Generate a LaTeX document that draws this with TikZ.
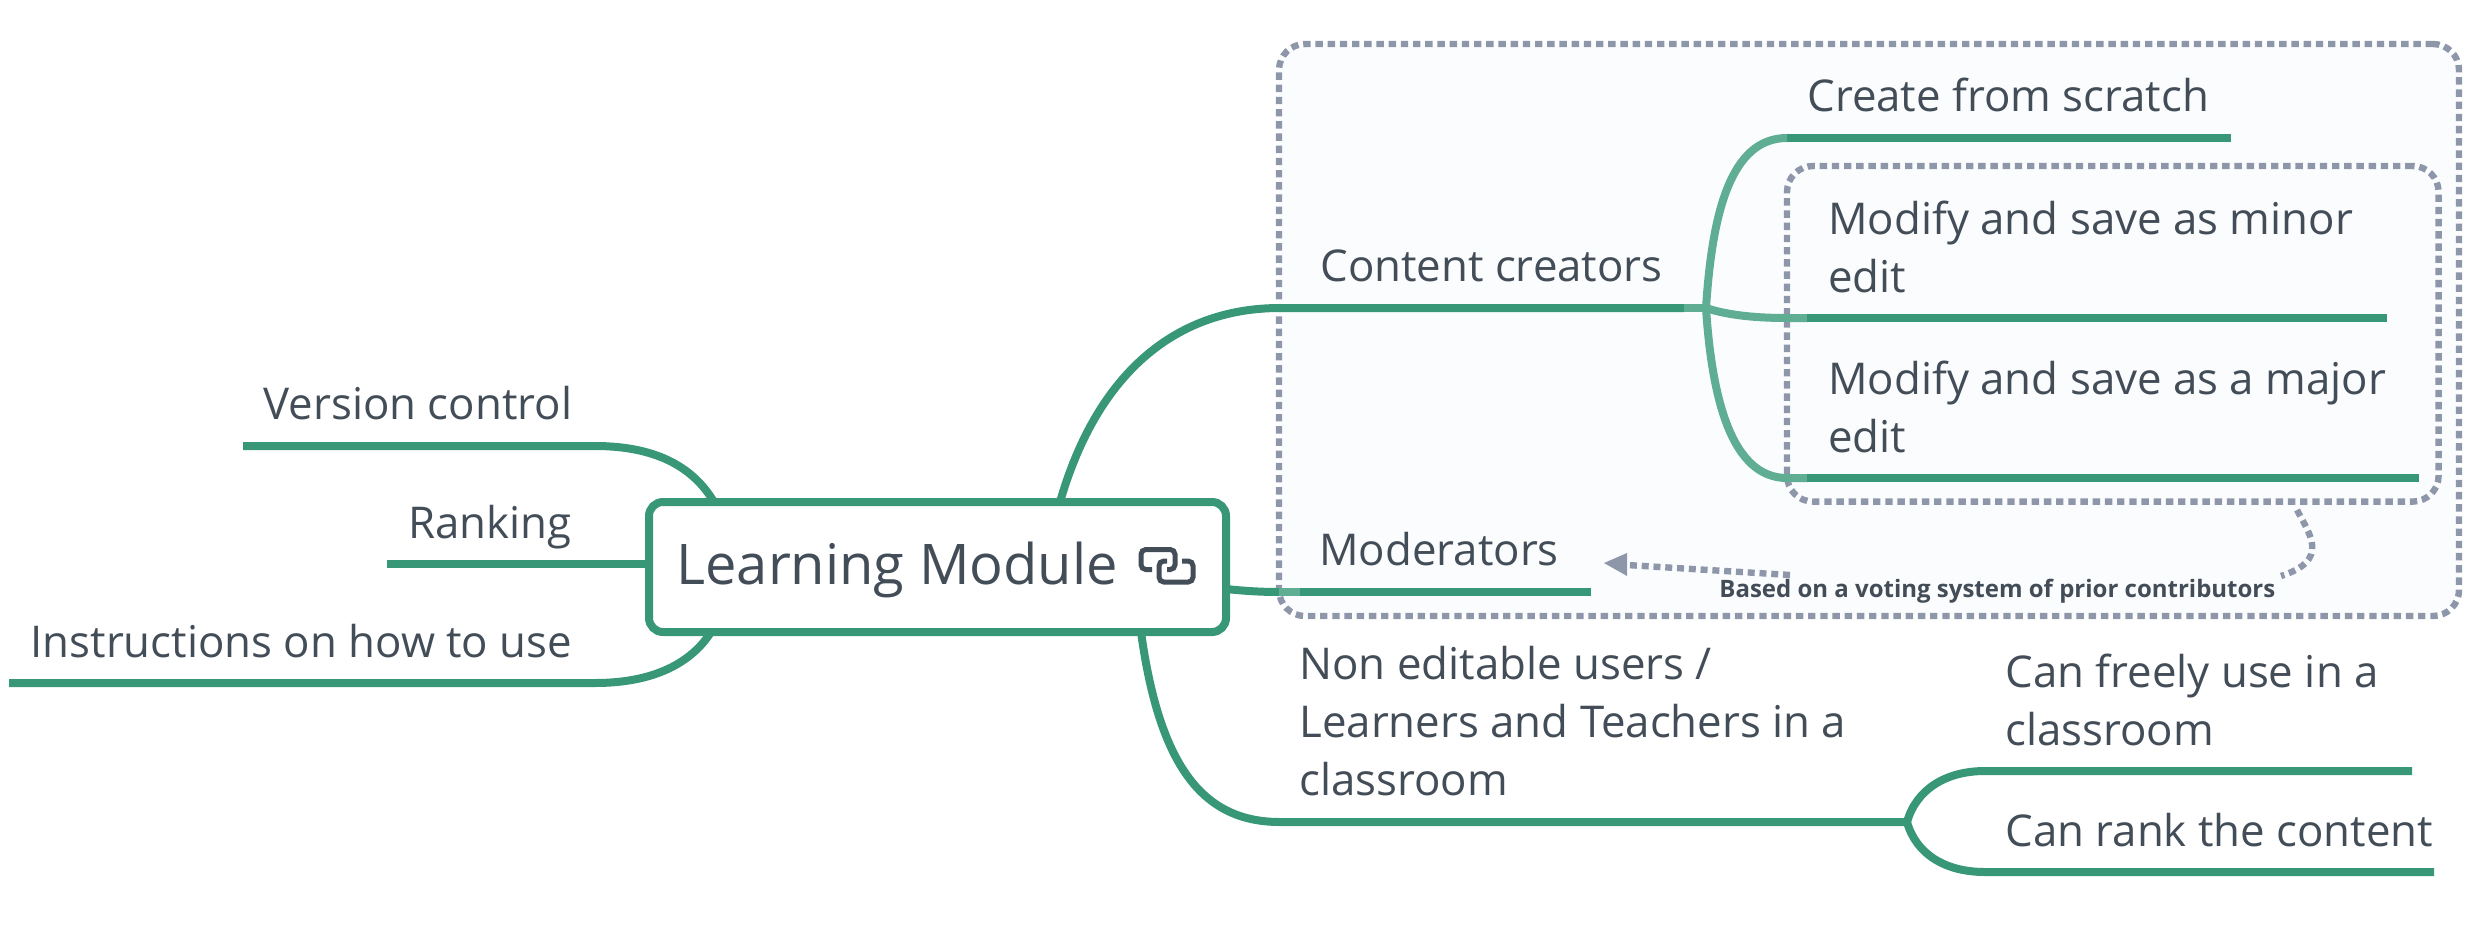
\documentclass[tikz,border=0pt]{standalone}
\usepackage{fontspec}
\setmainfont{Open Sans}
\usetikzlibrary{arrows.meta}
\definecolor{branchgreen}{HTML}{389777}
\definecolor{branchlight}{HTML}{5FAD93}
\definecolor{inktext}{HTML}{434D58}
\definecolor{groupline}{HTML}{8E97A9}
\definecolor{groupfill}{HTML}{FBFCFE}
\tikzset{
  topic/.style={anchor=base west,inner sep=0pt,text=inktext,font=\fontsize{21.9}{29}\selectfont,align=left},
  topicr/.style={anchor=base east,inner sep=0pt,text=inktext,font=\fontsize{21.9}{29}\selectfont,align=right},
  branch/.style={draw=branchgreen,line width=4pt},
  branchsoft/.style={draw=branchlight,line width=4pt},
  groupbox/.style={draw=groupline,fill=groupfill,line width=3.2pt,dash pattern=on 3.7pt off 2.4pt,rounded corners=13pt},
  central/.style={draw=branchgreen,fill=white,line width=4pt,rounded corners=7pt,inner sep=0pt,minimum width=288.5pt,minimum height=65pt},
  notelink/.style={draw=groupline,line width=3.2pt,dash pattern=on 3.5pt off 2.4pt},
  iconline/.style={draw=inktext,line width=2.5pt,rounded corners=2.4pt}
}
\begin{document}
\begin{tikzpicture}[x=.5pt,y=-.5pt]
\useasboundingbox (0,0) rectangle (2488,927);
% groups
\node[groupbox,minimum width=590pt,minimum height=286pt,inner sep=0pt] (outer) at (1869,330) {};
% left branches
\coordinate (vc1) at (243,446); \coordinate (vc2) at (595,446);
\coordinate (rk1) at (387,564);
\coordinate (in1) at (9,683); \coordinate (in2) at (595,683);
\coordinate (cc0) at (1280,308); \coordinate (cc1) at (1684,308); \coordinate (cc2) at (1706,308);
\coordinate (cs0) at (1787,138); \coordinate (cs1) at (2231,138);
\coordinate (mi0) at (1787,318); \coordinate (mi00) at (1807,318); \coordinate (mi1) at (2387,318);
\coordinate (ma0) at (1787,478); \coordinate (ma00) at (1807,478); \coordinate (ma1) at (2419,478);
\coordinate (mo0) at (1279,592); \coordinate (mo00) at (1300,592); \coordinate (mo1) at (1591,592);
\coordinate (ne0) at (1280,822); \coordinate (ne1) at (1907,822);
\coordinate (fu0) at (1985,771); \coordinate (fu1) at (2412,771);
\coordinate (rc0) at (1985,872); \coordinate (rc1) at (2434,872);
\draw[branch] (vc1) -- (vc2) .. controls (660,446) and (695,470) .. (714,502);
\draw[branch] (rk1) -- (649,564);
\draw[branch] (in1) -- (in2) .. controls (655,683) and (692,662) .. (711,632);
\draw[branch] (1060,502) .. controls (1095,380) and (1170,308) .. (cc0) -- (cc1);
\draw[branch] (1226,589) .. controls (1245,591) and (1262,592) .. (mo0);
\draw[branchsoft] (mo0) -- (mo00);
\draw[branch] (mo00) -- (mo1);
\draw[branch] (1141,632) .. controls (1160,770) and (1205,822) .. (ne0) -- (ne1);
\draw[branch] (ne1) .. controls (1916,790) and (1945,771) .. (fu0) -- (fu1);
\draw[branch] (ne1) .. controls (1916,854) and (1945,872) .. (rc0) -- (rc1);
% inner group
\node[groupbox,minimum width=325.8pt,minimum height=167.8pt,inner sep=0pt] (inner) at (2112.8,333.8) {};
% content creators branches
\draw[branchsoft] (cc1) -- (cc2);
\draw[branchsoft] (cc2) .. controls (1712,215) and (1730,138) .. (cs0);
\draw[branchsoft] (cc2) .. controls (1730,316) and (1760,318) .. (mi0) -- (mi00);
\draw[branchsoft] (cc2) .. controls (1712,400) and (1732,478) .. (ma0) -- (ma00);
\draw[branch] (cs0) -- (cs1);
\draw[branch] (mi00) -- (mi1);
\draw[branch] (ma00) -- (ma1);
% note connector
\node[anchor=base west,inner sep=0pt,text=inktext,font=\fontsize{12}{14}\selectfont\bfseries] (note) at (1719,597) {Based on a voting system of prior contributors};
\coordinate (nt0) at (2297,510);
\coordinate (nt3) at (2281,576);
\coordinate (nt4) at (1790,575);
\coordinate (nt1) at (1627,565);
\coordinate (nt2) at (1604,563);
\draw[notelink] (nt0) .. controls (2310,535) and (2330,560) .. (nt3);
\draw[notelink] (nt4) -- (nt1);
\path[fill=groupline] (nt2) -- (1627,553) -- (1627,576) -- cycle;
% central
\node[central] (main) at (937.5,567) {};
\node[anchor=base west,inner sep=0pt,text=inktext,font=\fontsize{28}{34}\selectfont] (maintxt) at (676,584) {Learning Module};
\draw[iconline] (1152,569.5) -- (1141,569.5) -- (1141,549.5) -- (1175,549.5) -- (1175,569.5) -- (1167,569.5);
\draw[iconline] (1182,561) -- (1193,561) -- (1193,582) -- (1159,582) -- (1159,561) -- (1167,561);
% texts
\node[topicr] (t1) at (572.5,419) {Version control};
\node[topicr] (t2) at (572,538) {Ranking};
\node[topicr] (t3) at (572.5,657) {Instructions on how to use};
\node[topic] (t4) at (1320,281) {Content creators};
\node[topic] (t5) at (1807,111) {Create from scratch};
\node[topic] (t6) at (1828,292) {Modify and save as minor\\edit};
\node[topic] (t7) at (1828,452) {Modify and save as a major\\edit};
\node[topic] (t8) at (1319,565) {Moderators};
\node[topic] (t9) at (1299,795) {Non editable users /\\Learners and Teachers in a\\classroom};
\node[topic] (t10) at (2005,745) {Can freely use in a\\classroom};
\node[topic] (t11) at (2005,846) {Can rank the content};
\end{tikzpicture}
\end{document}
